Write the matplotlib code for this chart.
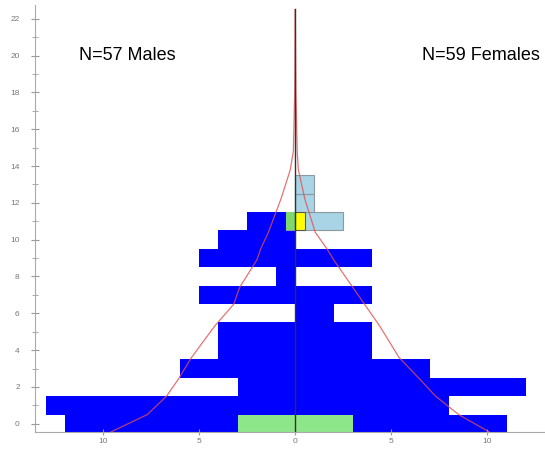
import matplotlib
matplotlib.use('Agg')
import matplotlib.pyplot as plt

# age bands (one row per year) and counts per sex
ages = [0, 1, 2, 3, 4, 5, 6, 7, 8, 9, 10, 11]
males = [12, 13, 3, 6, 4, 4, 0, 5, 1, 5, 4, 2.5]
females = [11, 8, 12, 7, 4, 4, 2, 4, 0, 4, 0, 0]

# highlighted cells drawn over the pyramid
infant_left, infant_width = -3, 6
box_ages = [11, 12, 13]
box_left = [-0.5, 0, 0]
box_width = [3, 1, 1]
green_left, green_width = -0.5, 0.5
yellow_left, yellow_width = 0, 0.5

# reference population outline
curve_age = [-0.45, 0.5, 1.5, 2.4, 3.6, 5.3, 6.5, 7.4, 8.9, 9.5, 10.4,
             12.2, 13.8, 14.8, 18.0, 22.5]
curve_male = [-9.6, -7.7, -6.7, -6.1, -5.4, -4.2, -3.2, -2.9, -2.0, -1.8,
              -1.4, -0.75, -0.26, -0.1, -0.03, 0]
curve_female = [10.1, 8.5, 7.3, 6.5, 5.4, 4.4, 3.6, 3.0, 2.0, 1.65, 1.04,
                0.5, 0.16, 0.1, 0.03, 0]

plt.rcParams['font.family'] = ['Liberation Sans', 'DejaVu Sans']

fig = plt.figure(figsize=(5.45, 4.49), dpi=100)
ax = fig.add_axes([35 / 545, 17 / 449, 510 / 545, 427 / 449])

ax.barh(ages, [-m for m in males], height=1, color='#0000ff', linewidth=0)
ax.barh(ages, females, height=1, color='#0000ff', linewidth=0)

ax.barh([0], [infant_width], left=[infant_left], height=1,
        color='#8ee68a', linewidth=0)
ax.barh(box_ages, box_width, left=box_left, height=1, color='#a8d4e6',
        edgecolor='#8a9aa0', linewidth=0.8)
ax.barh([11], [green_width], left=[green_left], height=1,
        color='#7ed86a', linewidth=0)
ax.barh([11], [yellow_width], left=[yellow_left], height=1,
        color='#ffff00', edgecolor='#555555', linewidth=0.8)

ax.plot(curve_male, curve_age, color='#e05050', lw=0.9, alpha=0.8)
ax.plot(curve_female, curve_age, color='#e05050', lw=0.9, alpha=0.8)
ax.axvline(0, ymax=0.99, color='#333333', lw=1)

ax.set_xlim(-13.55, 13.0)
ax.set_ylim(-0.45, 22.75)

ax.set_yticks(range(0, 23, 2))
ax.set_yticks(range(1, 23, 2), minor=True)
ax.set_xticks([-10, -5, 0, 5, 10])
ax.set_xticklabels(['10', '5', '0', '5', '10'])
ax.tick_params(axis='both', which='both', direction='inout', colors='#999999',
               labelsize=6, labelcolor='#777777')
ax.tick_params(axis='y', which='major', length=6, pad=8)
ax.tick_params(axis='y', which='minor', length=4)
ax.tick_params(axis='x', which='major', length=4, pad=2)

for side in ['top', 'right']:
    ax.spines[side].set_visible(False)
for side in ['left', 'bottom']:
    ax.spines[side].set_color('#aaaaaa')
    ax.spines[side].set_linewidth(0.8)

ax.text(-8.75, 20.0, 'N=57 Males', fontsize=13, ha='center', va='center')
ax.text(9.65, 20.0, 'N=59 Females', fontsize=13, ha='center', va='center')

fig.savefig('out.png', dpi=100)
